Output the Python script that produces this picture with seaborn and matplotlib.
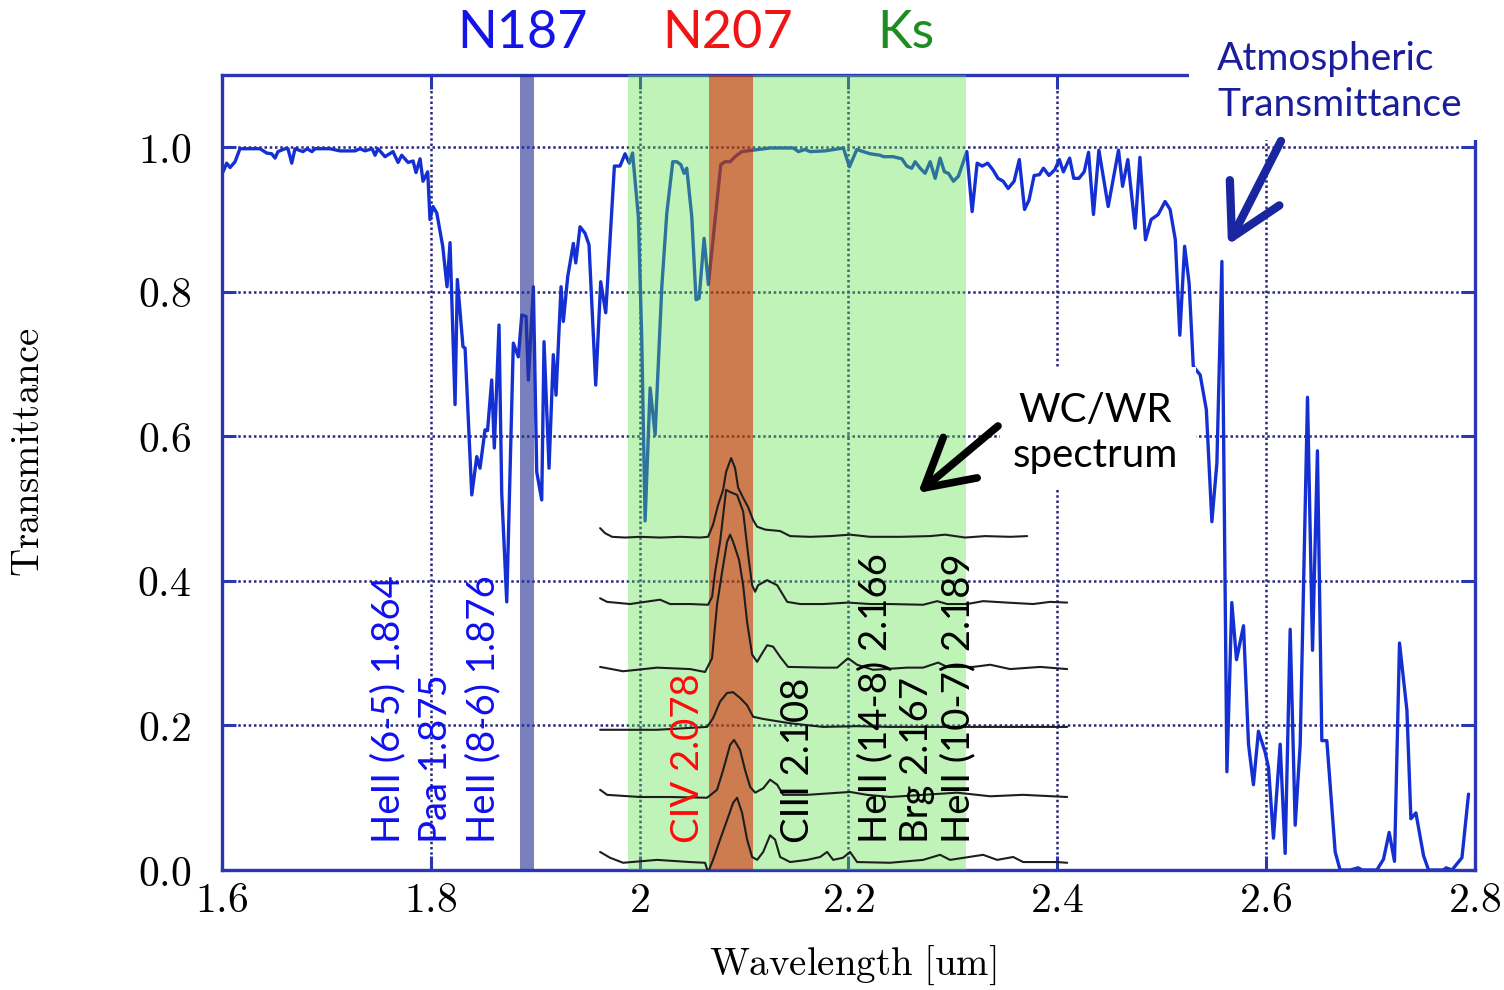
import numpy as np
import pandas as pd
import matplotlib
matplotlib.use("Agg")
import matplotlib.pyplot as plt
import seaborn as sns
from matplotlib.patches import Rectangle, FancyArrowPatch

# ---------------- data ----------------
atm_wl = [1.6010, 1.6045, 1.6077, 1.6125, 1.6172, 1.6364, 1.6428, 1.6476, 1.6508, 1.6536,
          1.6603, 1.6632, 1.6668, 1.6699, 1.6776, 1.6814, 1.6862, 1.6891, 1.7034, 1.7130,
          1.7274, 1.7322, 1.7370, 1.7437, 1.7466, 1.7494, 1.7561, 1.7638, 1.7686, 1.7721,
          1.7782, 1.7830, 1.7858, 1.7897, 1.7925, 1.7970, 1.7992, 1.8021, 1.8057, 1.8114,
          1.8155, 1.8184, 1.8232, 1.8254, 1.8308, 1.8328, 1.8392, 1.8440, 1.8471, 1.8519,
          1.8543, 1.8583, 1.8608, 1.8653, 1.8679, 1.8727, 1.8790, 1.8838, 1.8871, 1.8912,
          1.8934, 1.8982, 1.9014, 1.9062, 1.9084, 1.9132, 1.9173, 1.9199, 1.9247, 1.9269,
          1.9311, 1.9365, 1.9388, 1.9429, 1.9477, 1.9515, 1.9579, 1.9627, 1.9675, 1.9758,
          1.9812, 1.9860, 1.9901, 1.9932, 1.9988, 2.0020, 2.0052, 2.0100, 2.0148, 2.0212,
          2.0260, 2.0317, 2.0355, 2.0394, 2.0425, 2.0451, 2.0499, 2.0540, 2.0569, 2.0617,
          2.0658, 2.0722, 2.0777, 2.0818, 2.0866, 2.0914, 2.0978, 2.1086, 2.1249, 2.1472,
          2.1520, 2.1584, 2.1632, 2.1776, 2.1951, 2.2009, 2.2080, 2.2140, 2.2207, 2.2303,
          2.2334, 2.2427, 2.2511, 2.2558, 2.2606, 2.2638, 2.2686, 2.2734, 2.2782, 2.2830,
          2.2877, 2.2919, 2.2957, 2.3005, 2.3053, 2.3133, 2.3184, 2.3232, 2.3280, 2.3333,
          2.3382, 2.3432, 2.3481, 2.3529, 2.3586, 2.3636, 2.3686, 2.3729, 2.3778, 2.3828,
          2.3867, 2.3920, 2.3976, 2.4019, 2.4058, 2.4118, 2.4157, 2.4207, 2.4257, 2.4299,
          2.4346, 2.4398, 2.4487, 2.4586, 2.4625, 2.4675, 2.4745, 2.4791, 2.4844, 2.4898,
          2.4966, 2.5032, 2.5080, 2.5130, 2.5173, 2.5219, 2.5262, 2.5302, 2.5368, 2.5427,
          2.5480, 2.5528, 2.5576, 2.5624, 2.5671, 2.5716, 2.5783, 2.5831, 2.5878, 2.5926,
          2.5990, 2.6022, 2.6070, 2.6134, 2.6182, 2.6230, 2.6278, 2.6326, 2.6396, 2.6444,
          2.6491, 2.6533, 2.6581, 2.6661, 2.6708, 2.6805, 2.6881, 2.6920, 2.7060, 2.7124,
          2.7178, 2.7229, 2.7277, 2.7348, 2.7386, 2.7434, 2.7507, 2.7555, 2.7695, 2.7724,
          2.7779, 2.7875, 2.7938]
atm_T = [0.966, 0.978, 0.972, 0.980, 0.998, 0.998, 0.992, 0.991, 0.985, 0.994,
         0.998, 0.998, 0.978, 0.998, 0.994, 0.998, 0.994, 0.998, 0.998, 0.995,
         0.995, 0.998, 0.995, 0.998, 0.989, 0.998, 0.987, 0.994, 0.979, 0.989,
         0.979, 0.981, 0.965, 0.984, 0.953, 0.966, 0.900, 0.918, 0.909, 0.863,
         0.807, 0.868, 0.644, 0.817, 0.724, 0.722, 0.519, 0.572, 0.556, 0.609,
         0.608, 0.678, 0.584, 0.754, 0.521, 0.371, 0.729, 0.710, 0.768, 0.766,
         0.678, 0.807, 0.551, 0.512, 0.731, 0.556, 0.713, 0.657, 0.807, 0.759,
         0.821, 0.867, 0.840, 0.890, 0.881, 0.865, 0.671, 0.814, 0.771, 0.974,
         0.974, 0.991, 0.978, 0.992, 0.903, 0.734, 0.483, 0.667, 0.602, 0.807,
         0.909, 0.980, 0.980, 0.976, 0.964, 0.971, 0.904, 0.789, 0.791, 0.874,
         0.810, 0.900, 0.976, 0.980, 0.980, 0.987, 0.994, 0.996, 0.999, 0.999,
         0.994, 0.997, 0.994, 0.995, 0.999, 0.973, 0.997, 0.994, 0.991, 0.989,
         0.987, 0.987, 0.984, 0.974, 0.971, 0.980, 0.971, 0.964, 0.980, 0.957,
         0.985, 0.966, 0.964, 0.953, 0.960, 0.994, 0.911, 0.978, 0.974, 0.978,
         0.969, 0.957, 0.953, 0.943, 0.953, 0.983, 0.914, 0.927, 0.961, 0.962,
         0.971, 0.961, 0.969, 0.983, 0.966, 0.985, 0.957, 0.957, 0.966, 0.993,
         0.907, 0.996, 0.918, 0.996, 0.946, 0.983, 0.888, 0.986, 0.872, 0.900,
         0.907, 0.925, 0.914, 0.872, 0.740, 0.863, 0.812, 0.697, 0.685, 0.637,
         0.482, 0.563, 0.842, 0.136, 0.370, 0.291, 0.338, 0.174, 0.118, 0.192,
         0.163, 0.142, 0.044, 0.174, 0.023, 0.333, 0.062, 0.174, 0.654, 0.304,
         0.580, 0.179, 0.179, 0.025, 0.000, 0.000, 0.003, 0.000, 0.000, 0.015,
         0.052, 0.012, 0.314, 0.221, 0.071, 0.079, 0.020, 0.000, 0.000, 0.003,
         0.000, 0.017, 0.105]

# WC/WR spectra (pasted traces, top to bottom)
spec1_wl = [1.9621, 1.9669, 1.9736, 1.9860, 2.0004, 2.0195, 2.0387, 2.0579, 2.0655, 2.0703,
            2.0751, 2.0799, 2.0828, 2.0876, 2.0914, 2.0943, 2.0991, 2.1039, 2.1087, 2.1125,
            2.1202, 2.1345, 2.1441, 2.1633, 2.1824, 2.2015, 2.2207, 2.2494, 2.2782, 2.2925,
            2.3117, 2.3308, 2.3548, 2.3711]
spec1_T = [0.473, 0.466, 0.461, 0.460, 0.461, 0.460, 0.461, 0.460, 0.461, 0.478,
           0.505, 0.526, 0.551, 0.570, 0.556, 0.529, 0.515, 0.502, 0.484, 0.475,
           0.471, 0.469, 0.462, 0.461, 0.462, 0.464, 0.461, 0.461, 0.462, 0.464,
           0.460, 0.462, 0.461, 0.462]

spec2_wl = [1.9621, 1.9688, 1.9908, 2.0195, 2.0291, 2.0483, 2.0655, 2.0694, 2.0722, 2.0770,
            2.0828, 2.0866, 2.0933, 2.0991, 2.1039, 2.1077, 2.1106, 2.1134, 2.1221, 2.1317,
            2.1413, 2.1537, 2.1757, 2.1996, 2.2207, 2.2398, 2.2715, 2.2849, 2.2945, 2.3136,
            2.3289, 2.3519, 2.3768, 2.3931, 2.4094]
spec2_T = [0.376, 0.371, 0.368, 0.374, 0.368, 0.368, 0.367, 0.378, 0.412, 0.454,
           0.526, 0.523, 0.519, 0.496, 0.436, 0.394, 0.385, 0.394, 0.401, 0.394,
           0.371, 0.368, 0.368, 0.370, 0.368, 0.368, 0.367, 0.372, 0.368, 0.368,
           0.372, 0.370, 0.368, 0.371, 0.370]

spec3_wl = [1.9621, 1.9841, 2.0167, 2.0483, 2.0626, 2.0693, 2.0741, 2.0789, 2.0837, 2.0866,
            2.0895, 2.0952, 2.0991, 2.1029, 2.1077, 2.1125, 2.1153, 2.1221, 2.1278, 2.1345,
            2.1421, 2.1757, 2.1891, 2.1996, 2.2082, 2.2236, 2.2561, 2.2715, 2.2858, 2.2945,
            2.3194, 2.3357, 2.3548, 2.3835, 2.4094]
spec3_T = [0.281, 0.275, 0.280, 0.278, 0.274, 0.293, 0.367, 0.412, 0.454, 0.464,
           0.454, 0.429, 0.394, 0.343, 0.298, 0.288, 0.295, 0.311, 0.309, 0.295,
           0.281, 0.280, 0.280, 0.293, 0.284, 0.277, 0.280, 0.280, 0.287, 0.281,
           0.281, 0.284, 0.278, 0.281, 0.278]

spec4_wl = [1.9621, 1.9908, 2.0167, 2.0646, 2.0703, 2.0770, 2.0837, 2.0895, 2.0962, 2.1029,
            2.1087, 2.1183, 2.1441, 2.1757, 2.2082, 2.2398, 2.2715, 2.3040, 2.3357, 2.3673,
            2.4094]
spec4_T = [0.194, 0.194, 0.194, 0.198, 0.210, 0.233, 0.245, 0.246, 0.238, 0.228,
           0.212, 0.209, 0.203, 0.198, 0.199, 0.198, 0.198, 0.198, 0.198, 0.198,
           0.198]

spec5_wl = [1.9621, 1.9688, 2.0004, 2.0291, 2.0646, 2.0741, 2.0799, 2.0866, 2.0904, 2.0962,
            2.1010, 2.1058, 2.1106, 2.1183, 2.1249, 2.1317, 2.1374, 2.1604, 2.2015, 2.2178,
            2.2398, 2.2715, 2.3040, 2.3357, 2.3673, 2.4094]
spec5_T = [0.111, 0.104, 0.101, 0.101, 0.100, 0.111, 0.138, 0.173, 0.180, 0.166,
           0.138, 0.115, 0.107, 0.113, 0.125, 0.118, 0.104, 0.104, 0.108, 0.104,
           0.101, 0.104, 0.107, 0.102, 0.104, 0.101]

spec6_wl = [1.9621, 1.9716, 1.9841, 2.0167, 2.0483, 2.0626, 2.0655, 2.0703, 2.0770, 2.0837,
            2.0895, 2.0933, 2.0981, 2.1029, 2.1077, 2.1125, 2.1183, 2.1249, 2.1297, 2.1345,
            2.1441, 2.1604, 2.1728, 2.1795, 2.1853, 2.1948, 2.2015, 2.2082, 2.2398, 2.2715,
            2.2877, 2.2973, 2.3289, 2.3424, 2.3577, 2.3673, 2.3998, 2.4094]
spec6_T = [0.025, 0.017, 0.010, 0.014, 0.011, 0.010, -0.003, 0.014, 0.042, 0.069,
           0.093, 0.100, 0.079, 0.042, 0.018, 0.014, 0.025, 0.048, 0.042, 0.018,
           0.011, 0.014, 0.018, 0.025, 0.014, 0.017, 0.025, 0.011, 0.010, 0.014,
           0.021, 0.014, 0.021, 0.014, 0.018, 0.011, 0.011, 0.010]

# filter bands (wavelength ranges, um)
n187_band = [1.8854, 1.8989]
ks_band = [1.9889, 2.3126]
n207_band = [2.0665, 2.1086]

filter_names = ["N187", "N207", "Ks"]
filter_x = [1.888, 2.0837, 2.2552]
filter_colors = ["#1414e6", "#f01414", "#1e8c1e"]

line_labels = ["HeII (6-5) 1.864", "Paa 1.875", "HeII (8-6) 1.876", "CIV 2.078",
               "CIII 2.108", "HeII (14-8) 2.166", "Brg 2.167", "HeII (10-7) 2.189"]
line_label_x = [1.759, 1.805, 1.850, 2.0464, 2.1517, 2.2255, 2.2657, 2.305]
line_label_colors = ["#1010f0", "#1010f0", "#1010f0", "#ff0a0a",
                     "black", "black", "black", "black"]

xticks = [1.6, 1.8, 2.0, 2.2, 2.4, 2.6, 2.8]
xtick_labels = ["1.6", "1.8", "2", "2.2", "2.4", "2.6", "2.8"]
yticks = [0.0, 0.2, 0.4, 0.6, 0.8, 1.0]
ytick_labels = ["0.0", "0.2", "0.4", "0.6", "0.8", "1.0"]

# ---------------- style ----------------
sns.set_theme(style="white")
plt.rcParams["font.family"] = ["Lato", "DejaVu Sans"]
plt.rcParams["mathtext.fontset"] = "cm"

W, H = 1504, 990
fig = plt.figure(figsize=(W / 100, H / 100), dpi=100)
ax = fig.add_axes([222 / W, 120 / H, 1253 / W, 795 / H])
ax.set_facecolor("white")

spine_col = "#2b36b4"
grid_col = "#26267e"

# atmospheric transmittance
atm_df = pd.DataFrame({"wl": atm_wl, "T": atm_T})
sns.lineplot(data=atm_df, x="wl", y="T", sort=False, estimator=None,
             color="#1530d2", lw=2.4, ax=ax, zorder=2)

# filter bands
ax.axvspan(*n187_band, color="#283296", alpha=0.62, lw=0, zorder=3)
ax.axvspan(ks_band[0], n207_band[0], color="#59e244", alpha=0.38, lw=0, zorder=3)
ax.axvspan(n207_band[1], ks_band[1], color="#59e244", alpha=0.38, lw=0, zorder=3)
ax.axvspan(*n207_band, color="#b74505", alpha=0.70, lw=0, zorder=3)

# spectra
frames = []
for i, (w, t) in enumerate([(spec1_wl, spec1_T), (spec2_wl, spec2_T), (spec3_wl, spec3_T),
                            (spec4_wl, spec4_T), (spec5_wl, spec5_T), (spec6_wl, spec6_T)]):
    frames.append(pd.DataFrame({"wl": w, "T": t, "spec": i}))
spec_df = pd.concat(frames, ignore_index=True)
sns.lineplot(data=spec_df, x="wl", y="T", units="spec", estimator=None, sort=False,
             color="#1e1e1e", lw=1.5, ax=ax, zorder=4, legend=False)

# axes, grid, ticks
ax.set_xlim(1.6, 2.8)
ax.set_ylim(0, 1.1)
ax.set_xticks(xticks)
ax.set_yticks(yticks)
ax.set_xticklabels(["$" + s + "$" for s in xtick_labels])
ax.set_yticklabels(["$" + s + "$" for s in ytick_labels])
ax.set_axisbelow(True)
ax.grid(True, color=grid_col, linestyle=(0, (1, 1.1)), linewidth=1.8)
for s in ax.spines.values():
    s.set_color(spine_col)
    s.set_linewidth(2.4)
    s.set_visible(True)
ax.tick_params(direction="in", length=10, width=2.2, color=spine_col,
               top=True, right=True, bottom=True, left=True, labelsize=30,
               labelcolor="black")
ax.tick_params(axis="y", pad=22)
ax.tick_params(axis="x", pad=8)

ax.set_xlabel(r"$\mathrm{Wavelength\ [um]}$", fontsize=28, color="black")
ax.set_ylabel(r"$\mathrm{Transmittance}$", fontsize=28, color="black")
ax.xaxis.set_label_coords((853 - 222) / 1253, (870 - 965) / 795)
ax.xaxis.label.set_va("center")
ax.yaxis.set_label_coords((28 - 222) / 1253, (870 - 452) / 795)
ax.yaxis.label.set_va("center")

# rotated line labels
for lab, x, c in zip(line_labels, line_label_x, line_label_colors):
    ax.text(x, 0.0374, lab, rotation=90, ha="center", va="bottom",
            fontsize=27.5, color=c, zorder=6)

# filter names
for name, x, c in zip(filter_names, filter_x, filter_colors):
    ax.text(x, 1.158, name, ha="center", va="center", fontsize=37.5, color=c,
            clip_on=False, zorder=6)

# white box behind WC/WR label
ax.add_patch(Rectangle(((1000 - 222) / 1253, (870 - 490) / 795), 196 / 1253, 123 / 795,
                       transform=ax.transAxes, facecolor="white", edgecolor="none",
                       zorder=5, clip_on=False))
ax.text((1095 - 222) / 1253, (870 - 433) / 795, "WC/WR\nspectrum", transform=ax.transAxes,
        ha="center", va="center", fontsize=29, color="black", linespacing=1.28, zorder=6)
ax.add_patch(FancyArrowPatch(((998 - 222) / 1253, (870 - 426) / 795),
                             ((918 - 222) / 1253, (870 - 493) / 795),
                             transform=ax.transAxes,
                             arrowstyle="->,head_length=1.7,head_width=0.95",
                             mutation_scale=20, lw=5.5, color="black", zorder=7,
                             clip_on=False, shrinkA=0, shrinkB=0))

# top-right white box and label
fig.add_artist(Rectangle((1189 / W, 1 - 140 / H), 1 - 1189 / W, 140 / H,
                         transform=fig.transFigure, facecolor="white", edgecolor="none",
                         zorder=2))
fig.text(1217 / W, 1 - 82 / H, "Atmospheric\nTransmittance", ha="left", va="center",
         fontsize=28, color="#1a1e9c", linespacing=1.32, zorder=3)
fig.add_artist(FancyArrowPatch((1281 / W, 1 - 141 / H), (1228 / W, 1 - 245 / H),
                               transform=fig.transFigure,
                               arrowstyle="->,head_length=1.8,head_width=1.0",
                               mutation_scale=20, lw=6, color="#1a26a0", zorder=4,
                               shrinkA=0, shrinkB=0))

fig.savefig("out.png", dpi=100, facecolor="white")
